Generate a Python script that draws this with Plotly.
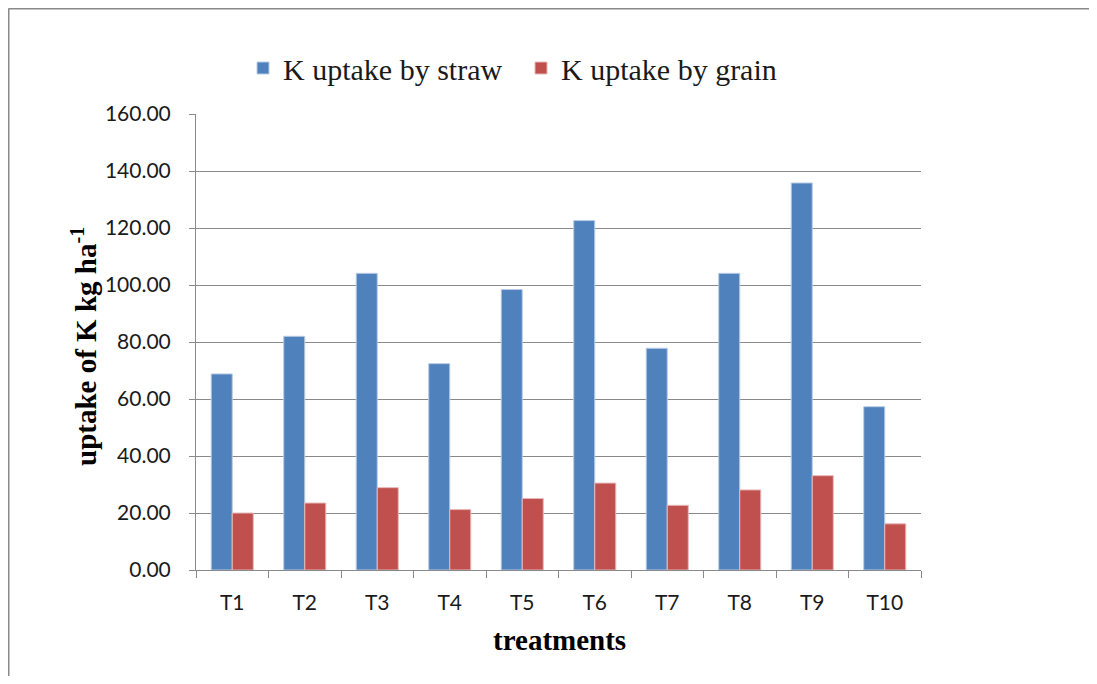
import plotly.graph_objects as go

treatments = ["T1", "T2", "T3", "T4", "T5", "T6", "T7", "T8", "T9", "T10"]
straw = [68.8, 82.0, 104.1, 72.4, 98.4, 122.6, 77.8, 104.1, 135.8, 57.3]
grain = [20.0, 23.5, 28.9, 21.2, 25.1, 30.5, 22.7, 28.1, 33.1, 16.2]

# page has an 8px body margin, so work in page pixels and shift
OFF = 8
W, H = 1097 - 2 * OFF, 684 - 2 * OFF
L, T = 196 - OFF, 114 - OFF
pw, ph = 725, 456
R, B = W - L - pw, H - T - ph

def px(x):
    return (x - OFF - L) / pw

def py(y):
    return (H - B - (y - OFF)) / ph

grey = "#898989"

fig = go.Figure()
fig.add_trace(go.Bar(x=treatments, y=straw, name="K uptake by straw",
                     marker=dict(color="#4F81BD", line=dict(color="#B8CCE4", width=1))))
fig.add_trace(go.Bar(x=treatments, y=grain, name="K uptake by grain",
                     marker=dict(color="#C0504D", line=dict(color="#E6B9B8", width=1))))

fig.update_layout(
    width=W, height=H,
    margin=dict(l=L, r=R, t=T, b=B),
    paper_bgcolor="white", plot_bgcolor="white",
    barmode="group", bargap=0.42, bargroupgap=0,
    showlegend=True,
    legend=dict(orientation="h", x=px(521), xanchor="center", y=py(68), yanchor="middle",
                font=dict(family="Liberation Serif", size=30, color="#1a1a1a"),
                itemwidth=30, entrywidth=233, entrywidthmode="pixels",
                traceorder="normal"),
    font=dict(family="Lato", color="#1a1a1a"),
)
fig.update_yaxes(range=[0, 160], tickvals=[0, 20, 40, 60, 80, 100, 120, 140, 160],
                 tickformat=".2f", tickfont=dict(family="Lato", size=21),
                 showgrid=True, gridcolor=grey, gridwidth=1,
                 showline=True, linecolor=grey, linewidth=1,
                 ticks="outside", ticklen=6, tickcolor=grey, zeroline=False,
                 ticklabelstandoff=14)
fig.update_xaxes(tickfont=dict(family="Lato", size=21),
                 showline=True, linecolor=grey, linewidth=1,
                 ticks="outside", ticklen=7, tickcolor=grey, tickson="boundaries",
                 ticklabelstandoff=14)

fig.add_annotation(text="<b>uptake of K kg ha<sup>-1</sup></b>", xref="paper", yref="paper",
                   x=px(84), y=py(347), xanchor="center", yanchor="middle",
                   textangle=-90, showarrow=False,
                   font=dict(family="Liberation Serif", size=29, color="black"))
fig.add_annotation(text="<b>treatments</b>", xref="paper", yref="paper",
                   x=px(559), y=py(640), xanchor="center", yanchor="middle",
                   showarrow=False,
                   font=dict(family="Liberation Serif", size=29, color="black"))

# outer chart border: only top and left edges are visible
fig.add_shape(type="line", xref="paper", yref="paper",
              x0=px(8.5), x1=px(1097), y0=py(8.5), y1=py(8.5),
              line=dict(color=grey, width=2))
fig.add_shape(type="line", xref="paper", yref="paper",
              x0=px(8.5), x1=px(8.5), y0=py(8.5), y1=py(684),
              line=dict(color=grey, width=2))

fig.write_html("out.html")
